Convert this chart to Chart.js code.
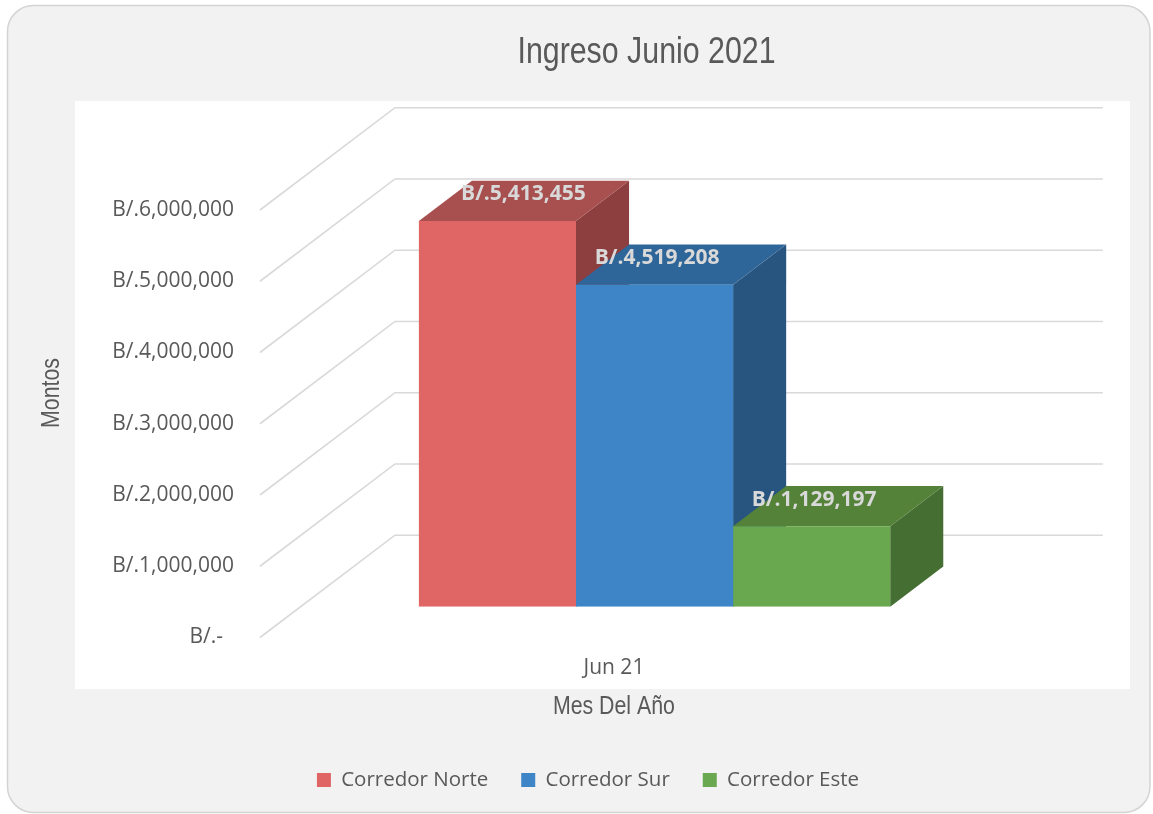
<!DOCTYPE html>
<html>
<head>
<meta charset="utf-8">
<script src="https://cdn.jsdelivr.net/npm/chart.js@4.4.1/dist/chart.umd.min.js"></script>
<style>
html,body{margin:0;padding:0;background:#fff;overflow:hidden}
#wrap{position:relative;width:1153px;height:814px}
</style>
</head>
<body>
<div id="wrap"><canvas id="c"></canvas></div>
<script>
// ---- data ----
const categories = ['Jun 21'];
const seriesNames = ['Corredor Norte', 'Corredor Sur', 'Corredor Este'];
const norteValues = [5413455];
const surValues = [4519208];
const esteValues = [1129197];
const yTickValues = [0, 1000000, 2000000, 3000000, 4000000, 5000000, 6000000];
const yTickLabels = ['B/.-  ', 'B/.1,000,000', 'B/.2,000,000', 'B/.3,000,000', 'B/.4,000,000', 'B/.5,000,000', 'B/.6,000,000'];
const chartTitle = 'Ingreso Junio 2021';
const yTitle = 'Montos';
const xTitle = 'Mes Del Año';

// ---- style ----
const FRONT = ['#E06666', '#3D85C6', '#6AA84F'];
const TOPC  = ['#A8504F', '#2F6699', '#548239'];
const SIDE  = ['#8D3F3F', '#27557F', '#456E32'];
const NARROW = "'Liberation Sans', Arial, sans-serif";
const K = 0.82; // horizontal condensing for the narrow title font
const BODY = "'Open Sans', 'Noto Sans', sans-serif";
const TXT = '#595959';
const DEPTH = {dx: 135, dy: -102.3, barPlane: 0.301, barDepth: 0.393};
const LABEL_SHIFT = [26, 2.5, 2.5];

function rrect(ctx, x, y, w, h, r) {
  ctx.beginPath();
  ctx.moveTo(x + r, y);
  ctx.arcTo(x + w, y, x + w, y + h, r);
  ctx.arcTo(x + w, y + h, x, y + h, r);
  ctx.arcTo(x, y + h, x, y, r);
  ctx.arcTo(x, y, x + w, y, r);
  ctx.closePath();
}
function poly(ctx, pts) {
  ctx.beginPath();
  ctx.moveTo(pts[0][0], pts[0][1]);
  for (let i = 1; i < pts.length; i++) ctx.lineTo(pts[i][0], pts[i][1]);
  ctx.closePath();
  ctx.fill();
}
function centerBox(box, cx) {
  if (!box) return;
  const d = cx - (box.left + box.right) / 2;
  box.left += d; box.right += d;
}
// draw a box's text condensed (narrow face emulation) around its centre
function condense(obj, method, vertical) {
  if (!obj || obj['_cond_' + method]) return;
  const orig = obj[method];
  obj[method] = function (...args) {
    const ctx = this.ctx;
    const cx = (this.left + this.right) / 2, cy = (this.top + this.bottom) / 2;
    ctx.save();
    ctx.translate(cx, cy);
    if (vertical) ctx.scale(1, K); else ctx.scale(K, 1);
    ctx.translate(-cx, -cy);
    orig.apply(this, args);
    ctx.restore();
  };
  obj['_cond_' + method] = true;
}
const fmt = v => 'B/.' + v.toLocaleString('en-US');

const threeD = {
  id: 'threeD',
  beforeDraw(chart) {
    const ctx = chart.ctx;
    ctx.save();
    ctx.fillStyle = '#FFFFFF';
    ctx.fillRect(0, 0, chart.width, chart.height);
    rrect(ctx, 7.5, 5.5, 1142.5, 807, 26);
    ctx.fillStyle = '#F2F2F2';
    ctx.fill();
    ctx.strokeStyle = '#D4D4D4';
    ctx.lineWidth = 1.5;
    ctx.stroke();
    ctx.fillStyle = '#FFFFFF';
    ctx.fillRect(75, 101, 1055, 588);
    ctx.restore();
  },
  afterLayout(chart) {
    centerBox(chart.titleBlock, 646.5);
    centerBox(chart.legend, 588);
    condense(chart.titleBlock, 'draw', false);
    condense(chart.scales.y, 'drawTitle', true);
  },
  beforeDatasetsDraw(chart) {
    const {ctx, chartArea: a} = chart;
    const ys = chart.scales.y;
    const t0 = DEPTH.barPlane;
    const fx = -t0 * DEPTH.dx, fy = -t0 * DEPTH.dy;
    const bx = (1 - t0) * DEPTH.dx, by = (1 - t0) * DEPTH.dy;
    ctx.save();
    ctx.strokeStyle = '#D9D9D9';
    ctx.lineWidth = 1.6;
    ys.ticks.forEach(t => {
      const py = ys.getPixelForValue(t.value);
      ctx.beginPath();
      ctx.moveTo(a.left + fx, py + fy);
      ctx.lineTo(a.left + bx, py + by);
      ctx.lineTo(a.right + bx, py + by);
      ctx.stroke();
    });
    const ddx = DEPTH.barDepth * DEPTH.dx, ddy = DEPTH.barDepth * DEPTH.dy;
    chart.data.datasets.forEach((ds, i) => {
      const meta = chart.getDatasetMeta(i);
      meta.data.forEach(bar => {
        const {x, y, base, width} = bar.getProps(['x', 'y', 'base', 'width'], true);
        const l = x - width / 2, r = x + width / 2;
        ctx.fillStyle = SIDE[i];
        poly(ctx, [[r, y], [r + ddx, y + ddy], [r + ddx, base + ddy], [r, base]]);
        ctx.fillStyle = TOPC[i];
        poly(ctx, [[l, y], [l + ddx, y + ddy], [r + ddx, y + ddy], [r, y]]);
      });
    });
    ctx.restore();
  },
  afterDatasetsDraw(chart) {
    const {ctx, chartArea: a} = chart;
    ctx.save();
    ctx.font = 'bold 21px ' + BODY;
    ctx.fillStyle = '#D9D9D9';
    ctx.textAlign = 'center';
    ctx.textBaseline = 'middle';
    chart.data.datasets.forEach((ds, i) => {
      const meta = chart.getDatasetMeta(i);
      meta.data.forEach((bar, j) => {
        const {x, y} = bar.getProps(['x', 'y'], true);
        ctx.fillText(fmt(ds.data[j]), x + LABEL_SHIFT[i], y - 26.5);
      });
    });
    ctx.restore();
    // x axis title, centred on the front (label) plane
    ctx.save();
    const cx = (a.left + a.right) / 2 - DEPTH.barPlane * DEPTH.dx;
    const cy = chart.scales.x.top + 100.3;
    ctx.translate(cx, cy);
    ctx.scale(K, 1);
    ctx.font = '26px ' + NARROW;
    ctx.fillStyle = TXT;
    ctx.textAlign = 'center';
    ctx.textBaseline = 'middle';
    ctx.fillText(xTitle, 0, 0);
    ctx.restore();
  }
};

new Chart(document.getElementById('c'), {
  type: 'bar',
  data: {
    labels: categories,
    datasets: [
      {label: seriesNames[0], data: norteValues, backgroundColor: FRONT[0], borderWidth: 0, categoryPercentage: 0.6658, barPercentage: 1},
      {label: seriesNames[1], data: surValues, backgroundColor: FRONT[1], borderWidth: 0, categoryPercentage: 0.6658, barPercentage: 1},
      {label: seriesNames[2], data: esteValues, backgroundColor: FRONT[2], borderWidth: 0, categoryPercentage: 0.6658, barPercentage: 1}
    ]
  },
  options: {
    responsive: true,
    maintainAspectRatio: false,
    animation: false,
    events: [],
    layout: {padding: {top: 0, left: 10, right: 144.5, bottom: 13.75}},
    scales: {
      x: {
        grid: {display: false, drawTicks: false},
        border: {display: false},
        ticks: {padding: 48.7, labelOffset: -40.6, color: TXT, font: {family: BODY, size: 21}},
        afterFit: s => { s.height = 130.05; }
      },
      y: {
        min: 0,
        max: 6000000,
        grid: {display: false, drawTicks: false},
        border: {display: false},
        ticks: {
          stepSize: 1000000,
          padding: 66.6,
          labelOffset: 30.8,
          color: TXT,
          font: {family: BODY, size: 21},
          callback: v => yTickLabels[yTickValues.indexOf(v)]
        },
        title: {display: true, text: yTitle, color: TXT, font: {family: NARROW, size: 26}, padding: {top: 26.4, bottom: 0}},
        afterFit: s => { s.width = 290.6; }
      }
    },
    plugins: {
      title: {display: true, text: chartTitle, color: TXT, font: {family: NARROW, size: 37, weight: 'normal'}, padding: {top: 30.3, bottom: 104.5}},
      legend: {
        position: 'bottom',
        labels: {boxWidth: 14, boxHeight: 14, padding: 33, color: TXT, font: {family: BODY, size: 20.5}}
      },
      tooltip: {enabled: false}
    }
  },
  plugins: [threeD]
});
</script>
</body>
</html>
